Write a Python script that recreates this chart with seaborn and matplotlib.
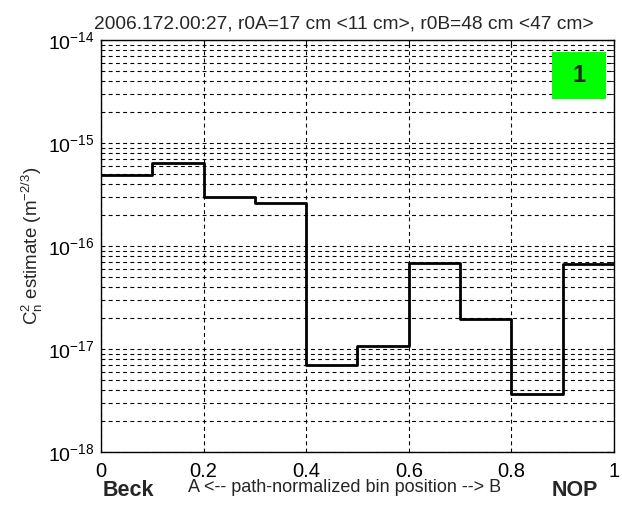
import numpy as np
import pandas as pd
import matplotlib
matplotlib.use("Agg")
import matplotlib.pyplot as plt
import seaborn as sns
from matplotlib.patches import Rectangle
from matplotlib.ticker import LogLocator, NullFormatter, FixedLocator, FixedFormatter

# ---- data ----
bin_edges = [0.0, 0.1, 0.2, 0.3, 0.4, 0.5, 0.6, 0.7, 0.8, 0.9, 1.0]
cn2_values = [4.85e-16, 6.35e-16, 3.0e-16, 2.63e-16, 7.0e-18,
              1.07e-17, 6.9e-17, 1.95e-17, 3.68e-18, 6.7e-17]
x_ticks = [0, 0.2, 0.4, 0.6, 0.8, 1]
x_ticklabels = ["0", "0.2", "0.4", "0.6", "0.8", "1"]
y_ticks = [1e-18, 1e-17, 1e-16, 1e-15, 1e-14]
y_ticklabels = [r"$10^{-18}$", r"$10^{-17}$", r"$10^{-16}$", r"$10^{-15}$", r"$10^{-14}$"]
title_text = "2006.172.00:27, r0A=17 cm <11 cm>, r0B=48 cm <47 cm>"
panel_label = "1"

sns.set_style("white")
plt.rcParams['font.family'] = ['Liberation Sans', 'DejaVu Sans']
plt.rcParams['mathtext.fontset'] = 'custom'
plt.rcParams['mathtext.rm'] = 'Liberation Sans'
plt.rcParams['mathtext.it'] = 'Liberation Sans'
plt.rcParams['mathtext.bf'] = 'Liberation Sans:bold'
plt.rcParams['axes.unicode_minus'] = False

df = pd.DataFrame({"x": bin_edges, "y": cn2_values + [cn2_values[-1]]})

fig = plt.figure(figsize=(6.22, 5.05), dpi=100)
ax = fig.add_axes([101/622, 1-452/505, 513/622, 412/505])

sns.lineplot(data=df, x="x", y="y", drawstyle="steps-post", color="black",
             linewidth=2.0, ax=ax, legend=False)

ax.set_yscale("log")
ax.set_xlim(0, 1)
ax.set_ylim(1e-18, 1e-14)
ax.set_xticks(x_ticks)
ax.set_xticklabels(x_ticklabels)
ax.yaxis.set_major_locator(FixedLocator(y_ticks))
ax.yaxis.set_major_formatter(FixedFormatter(y_ticklabels))
ax.yaxis.set_minor_locator(LogLocator(base=10, subs=np.arange(2, 10), numticks=20))
ax.yaxis.set_minor_formatter(NullFormatter())

grid_kw = dict(color="black", linestyle=(0, (3.5, 3)), linewidth=0.8)
ax.grid(True, which="major", axis="x", **grid_kw)
ax.grid(True, which="both", axis="y", **grid_kw)
ax.set_axisbelow(True)

for s in ax.spines.values():
    s.set_color("black")
    s.set_linewidth(1.0)
    s.set_visible(True)

ax.tick_params(axis="both", which="both", direction="in", top=True, right=True,
               colors="black")
ax.tick_params(axis="x", which="major", length=5, labelsize=14.5, pad=7)
ax.tick_params(axis="y", which="major", length=5, labelsize=14, pad=5)
ax.tick_params(axis="y", which="minor", length=3)

ax.set_xlabel("")
ax.set_ylabel(r"$\mathrm{C}_\mathrm{n}^\mathrm{2}$ estimate (m$^{\mathrm{-2/3}}$)",
              fontsize=13.5, labelpad=2)
ax.set_title(title_text, fontsize=13.8, pad=8, x=(343.5-101)/513)

# green panel label box
ax.add_patch(Rectangle((0.879, 0.857), 0.105, 0.114, transform=ax.transAxes,
                       facecolor="#00ff00", edgecolor="none", zorder=5))
ax.text(0.9315, 0.914, panel_label, transform=ax.transAxes, ha="center", va="center",
        fontsize=17, fontweight="bold", zorder=6)

fig.text(345/622, 1-488/505, "A <-- path-normalized bin position --> B",
         ha="center", va="center", fontsize=13)
fig.text(128/622, 1-490/505, "Beck", ha="center", va="center", fontsize=15.5,
         fontweight="bold")
fig.text(575/622, 1-490/505, "NOP", ha="center", va="center", fontsize=15.5,
         fontweight="bold")

fig.savefig("out.png", dpi=100)
